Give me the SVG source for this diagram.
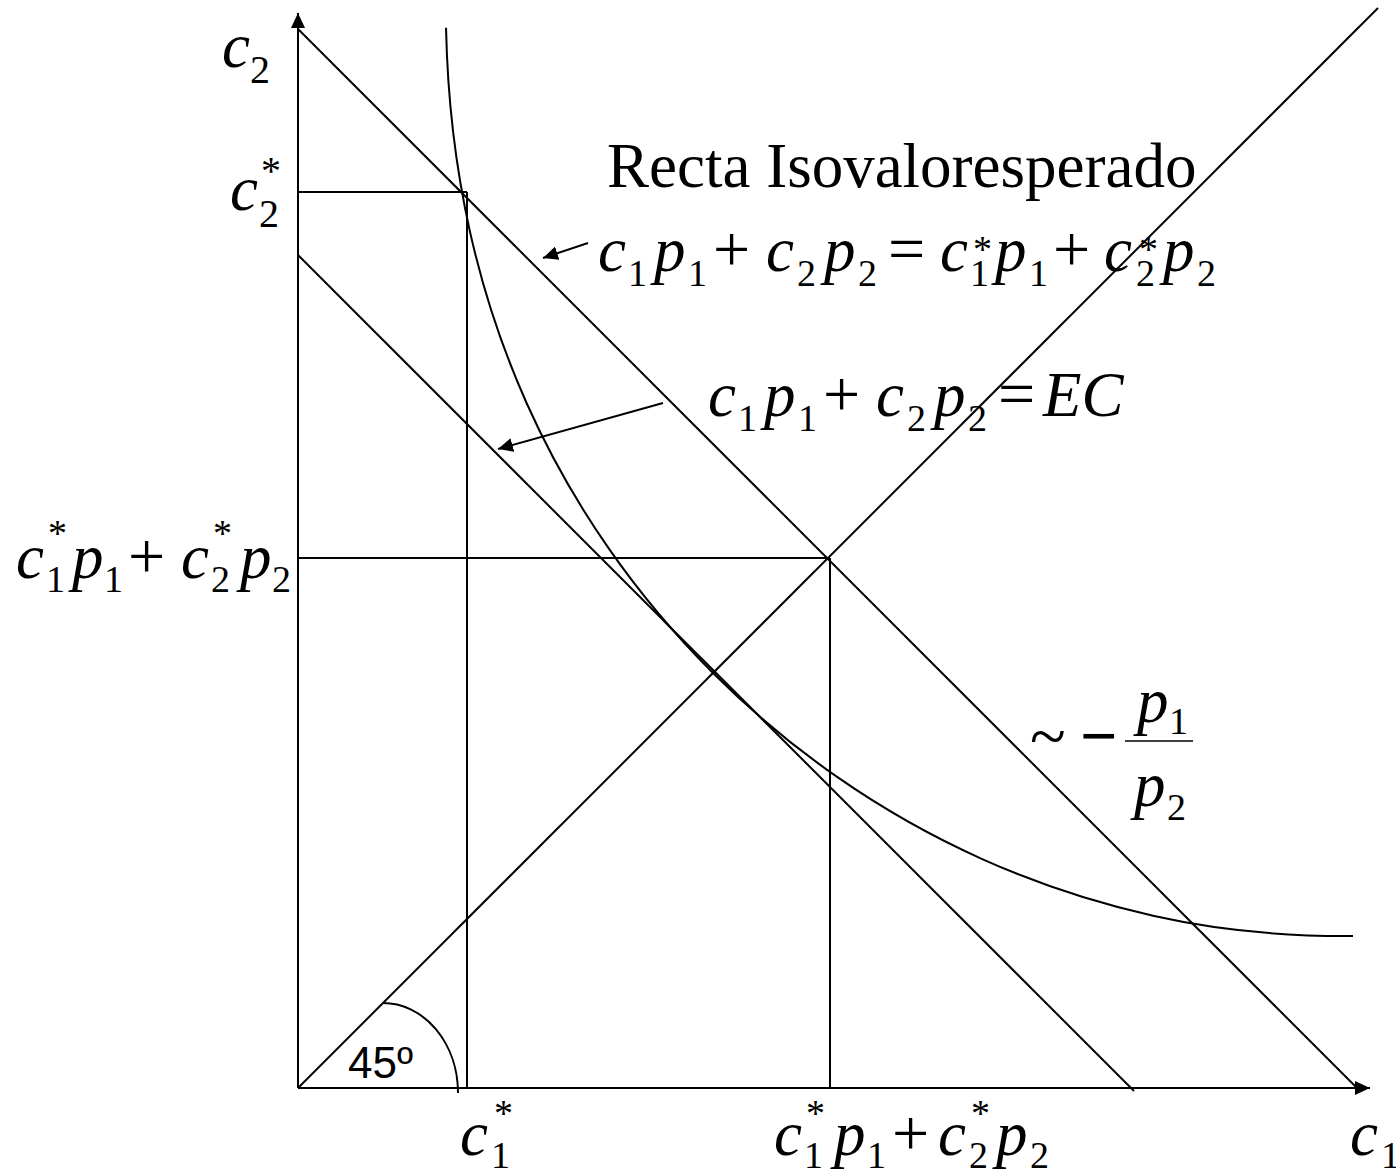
<svg xmlns="http://www.w3.org/2000/svg" width="1396" height="1176" viewBox="0 0 1396 1176">
<style>
.ln{stroke:#000;stroke-width:2;fill:none}
.t{font-family:"Liberation Serif","Times New Roman",serif;fill:#000}
.i{font-style:italic;font-size:63px}
.o{font-size:66px}
.s{font-size:38px}
.s2{font-size:40px}
</style>
<defs>
<marker id="ah" markerUnits="userSpaceOnUse" markerWidth="16" markerHeight="14" refX="15" refY="7" orient="auto">
<path d="M0,0 L15,7 L0,14 z" fill="#000"/>
</marker>
</defs>
<rect width="1396" height="1176" fill="#fff"/>
<g id="connectors">
<g id="axes">
<line class="ln" x1="298" y1="1088" x2="298" y2="13" marker-end="url(#ah)"/>
<line class="ln" x1="298" y1="1088" x2="1370" y2="1088" marker-end="url(#ah)"/>
</g>
<line id="budget-upper" class="ln" x1="298" y1="29" x2="1357" y2="1088"/>
<line id="budget-ec" class="ln" x1="298" y1="255" x2="1134" y2="1091"/>
<line id="certainty-line" class="ln" x1="298" y1="1088" x2="1378" y2="8"/>
<line class="ln" x1="298" y1="192" x2="467" y2="192"/>
<line class="ln" x1="467" y1="192" x2="467" y2="1087"/>
<line class="ln" x1="298" y1="558" x2="830" y2="558"/>
<line class="ln" x1="830" y1="558" x2="830" y2="1087"/>
<path id="angle-arc" class="ln" d="M383,1003 A75,90 0 0 1 458,1093"/>
<path id="indifference-curve" class="ln" d="M446.03,27.82 C447.58,102.29 456.11,169.75 470.01,231.86 C483.92,293.97 503.19,350.71 526.67,403.24 C550.15,455.77 577.85,504.10 609.06,548.90 C640.27,593.71 674.99,634.99 713,673 C751.01,711.01 792.29,745.73 837.10,776.94 C881.90,808.15 930.23,835.85 982.76,859.33 C1035.29,882.81 1092.03,902.08 1154.14,915.99 C1216.25,929.89 1283.71,936.5 1353,936"/>
<line id="arrow-upper" class="ln" x1="588" y1="243" x2="543" y2="258" marker-end="url(#ah)"/>
<line id="arrow-ec" class="ln" x1="663" y1="403" x2="498" y2="449" marker-end="url(#ah)"/>
<line id="frac-bar" x1="1125" y1="741" x2="1193" y2="741" stroke="#000" stroke-width="1.5"/>
</g>
<g id="label-c2">
<text class="t"><tspan class="i" x="222" y="67">c</tspan><tspan class="s2" x="250" y="83">2</tspan></text>
</g>
<g id="label-c2star">
<text class="t"><tspan class="i" x="230" y="210">c</tspan><tspan class="s2" x="261" y="184">*</tspan><tspan class="s2" x="259" y="227">2</tspan></text>
</g>
<g id="label-title">
<text class="t" x="607" y="187" font-size="63">Recta Isovaloresperado</text>
</g>
<g id="label-eq-upper">
<text class="t"><tspan class="i" x="598" y="271">c</tspan><tspan class="s" x="628" y="286">1</tspan><tspan class="i" x="654" y="271">p</tspan><tspan class="s" x="688" y="286">1</tspan><tspan class="o" x="713" y="271">+</tspan><tspan class="i" x="766" y="271">c</tspan><tspan class="s" x="797" y="286">2</tspan><tspan class="i" x="824" y="271">p</tspan><tspan class="s" x="858" y="286">2</tspan><tspan class="o" x="888" y="271">=</tspan><tspan class="i" x="940" y="271">c</tspan><tspan class="s" x="973" y="262">*</tspan><tspan class="s" x="970" y="286">1</tspan><tspan class="i" x="995" y="271">p</tspan><tspan class="s" x="1029" y="286">1</tspan><tspan class="o" x="1053" y="271">+</tspan><tspan class="i" x="1104" y="271">c</tspan><tspan class="s" x="1139" y="262">*</tspan><tspan class="s" x="1136" y="286">2</tspan><tspan class="i" x="1163" y="271">p</tspan><tspan class="s" x="1197" y="286">2</tspan></text>
</g>
<g id="label-eq-ec">
<text class="t"><tspan class="i" x="708" y="416">c</tspan><tspan class="s" x="738" y="431">1</tspan><tspan class="i" x="764" y="416">p</tspan><tspan class="s" x="798" y="431">1</tspan><tspan class="o" x="823" y="416">+</tspan><tspan class="i" x="876" y="416">c</tspan><tspan class="s" x="907" y="431">2</tspan><tspan class="i" x="934" y="416">p</tspan><tspan class="s" x="968" y="431">2</tspan><tspan class="o" x="998" y="416">=</tspan><tspan class="i" x="1043" y="416">EC</tspan></text>
</g>
<g id="label-left-value">
<text class="t"><tspan class="i" x="16" y="578">c</tspan><tspan class="s" x="48" y="546">*</tspan><tspan class="s" x="46" y="592">1</tspan><tspan class="i" x="72" y="578">p</tspan><tspan class="s" x="104" y="592">1</tspan><tspan class="o" x="128" y="578">+</tspan><tspan class="i" x="181" y="578">c</tspan><tspan class="s" x="213" y="546">*</tspan><tspan class="s" x="211" y="592">2</tspan><tspan class="i" x="240" y="578">p</tspan><tspan class="s" x="272" y="592">2</tspan></text>
</g>
<g id="label-angle">
<text x="348" y="1078" font-family="'Liberation Sans',Arial,sans-serif" font-size="44">45º</text>
</g>
<g id="label-c1star">
<text class="t"><tspan class="i" x="460" y="1155">c</tspan><tspan class="s" x="494" y="1126">*</tspan><tspan class="s" x="491" y="1168">1</tspan></text>
</g>
<g id="label-bottom-value">
<text class="t"><tspan class="i" x="774" y="1155">c</tspan><tspan class="s" x="806" y="1126">*</tspan><tspan class="s" x="804" y="1168">1</tspan><tspan class="i" x="834" y="1155">p</tspan><tspan class="s" x="867" y="1168">1</tspan><tspan class="o" x="892" y="1155">+</tspan><tspan class="i" x="938" y="1155">c</tspan><tspan class="s" x="971" y="1126">*</tspan><tspan class="s" x="969" y="1168">2</tspan><tspan class="i" x="996" y="1155">p</tspan><tspan class="s" x="1030" y="1168">2</tspan></text>
</g>
<g id="label-c1">
<text class="t"><tspan class="i" x="1350" y="1155">c</tspan><tspan class="s" x="1381" y="1168">1</tspan></text>
</g>
<g id="label-slope">
<text class="t"><tspan class="o" x="1030" y="758">~</tspan><tspan class="o" x="1080" y="758" font-weight="bold">−</tspan></text>
<text class="t"><tspan class="i" x="1137" y="722">p</tspan><tspan class="s" x="1169" y="734">1</tspan></text>
<text class="t"><tspan class="i" x="1134" y="806">p</tspan><tspan class="s" x="1167" y="820">2</tspan></text>
</g>
</svg>
